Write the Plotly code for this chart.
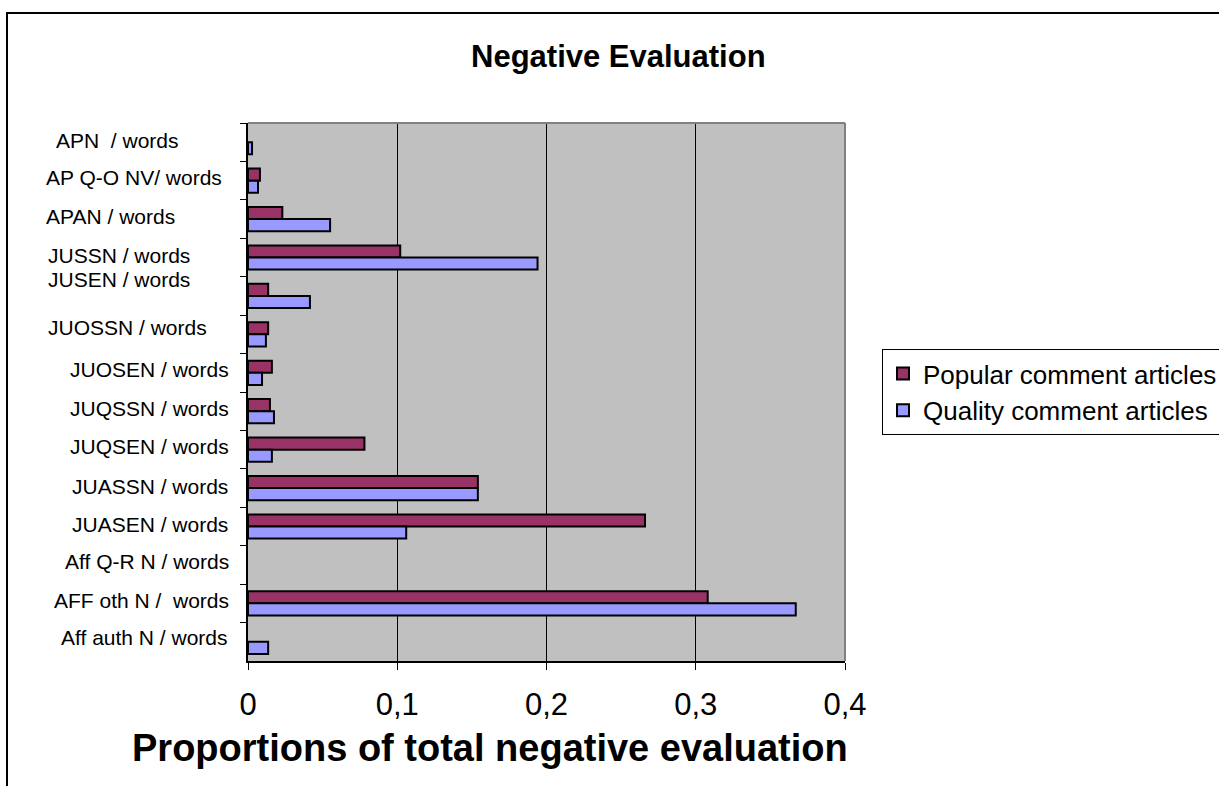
import plotly.graph_objects as go

# Categories, listed top to bottom as they appear on the chart
categories = [
    "APN  / words",
    "AP Q-O NV/ words",
    "APAN / words",
    "JUSSN / words",
    "JUSEN / words",
    "JUOSSN / words",
    "JUOSEN / words",
    "JUQSSN / words",
    "JUQSEN / words",
    "JUASSN / words",
    "JUASEN / words",
    "Aff Q-R N / words",
    "AFF oth N /  words",
    "Aff auth N / words",
]

popular = [0.0, 0.008, 0.023, 0.102, 0.0135, 0.0135, 0.016, 0.0147, 0.078,
           0.154, 0.266, 0.0, 0.308, 0.0]
quality = [0.0027, 0.0067, 0.055, 0.194, 0.0415, 0.012, 0.0094, 0.0174, 0.016,
           0.154, 0.106, 0.0, 0.367, 0.0135]

x_ticks = [0, 0.1, 0.2, 0.3, 0.4]

# Figure geometry (pixels)
W, H = 1219, 786
PL, PR, PT, PB = 248, 845, 123, 661


def px_x(px):
    return (px - PL) / (PR - PL)


def px_y(py):
    return (PB - py) / (PB - PT)


def nonzero(values):
    # empty categories get no bar at all (not even an outline)
    return [v if v > 0 else None for v in values]


FONT = "Liberation Sans, Arial, sans-serif"

fig = go.Figure()
fig.add_trace(go.Bar(
    y=categories, x=nonzero(popular), orientation="h",
    name="Popular comment articles",
    marker=dict(color="#993366", line=dict(color="black", width=2)),
))
fig.add_trace(go.Bar(
    y=categories, x=nonzero(quality), orientation="h",
    name="Quality comment articles",
    marker=dict(color="#9999FF", line=dict(color="black", width=2)),
))

# Category labels, placed individually (left edge px, vertical nudge px)
label_left = [54, 44, 44, 46, 46, 46, 68, 68, 68, 70, 70, 63, 52, 59]
label_shift = [2, 3, 3, 2, 16, 7, 3, 3, 3, 2, 2, 3, 3, 4]
annotations = []
for cat, lx, sh in zip(categories, label_left, label_shift):
    annotations.append(dict(
        x=px_x(lx), xref="paper", xanchor="left",
        y=cat, yref="y", yanchor="middle", yshift=sh,
        text=cat.replace("  ", "&nbsp; "), showarrow=False,
        font=dict(family=FONT, size=21, color="black"),
    ))

# Chart title and x-axis title
annotations.append(dict(
    x=px_x(618), xref="paper", xanchor="center",
    y=px_y(56), yref="paper", yanchor="middle",
    text="<b>Negative Evaluation</b>", showarrow=False,
    font=dict(family=FONT, size=31, color="black"),
))
annotations.append(dict(
    x=px_x(490), xref="paper", xanchor="center",
    y=px_y(748), yref="paper", yanchor="middle",
    text="<b>Proportions of total negative evaluation</b>", showarrow=False,
    font=dict(family=FONT, size=38, color="black"),
))

shapes = [
    # outer chart frame (runs past the right and bottom edges)
    dict(type="rect", xref="paper", yref="paper",
         x0=px_x(7), x1=px_x(1240), y0=px_y(810), y1=px_y(13),
         line=dict(color="black", width=2), layer="below"),
    # grey top and right edges of the plot area
    dict(type="line", xref="paper", yref="paper", x0=0, x1=1, y0=1, y1=1,
         line=dict(color="#808080", width=2)),
    dict(type="line", xref="paper", yref="paper", x0=1, x1=1, y0=0, y1=1,
         line=dict(color="#808080", width=2)),
]

fig.update_layout(
    width=W, height=H,
    margin=dict(l=PL, r=W - PR, t=PT, b=H - PB, autoexpand=False),
    paper_bgcolor="white",
    plot_bgcolor="#C0C0C0",
    barmode="group",
    bargap=0.37,
    bargroupgap=0,
    separators=",.",
    font=dict(family=FONT, color="black"),
    showlegend=True,
    legend=dict(
        x=px_x(882), xanchor="left", y=px_y(349), yanchor="top",
        bgcolor="white", bordercolor="black", borderwidth=1,
        font=dict(family=FONT, size=26, color="black"),
        tracegroupgap=0, itemclick=False,
    ),
    annotations=annotations,
    shapes=shapes,
)

fig.update_xaxes(
    range=[0, 0.4], tickvals=x_ticks,
    showgrid=True, gridcolor="black", gridwidth=1,
    showline=True, linecolor="black", linewidth=1.5,
    ticks="outside", ticklen=7, tickcolor="black", tickwidth=1,
    tickfont=dict(family=FONT, size=31, color="black"),
    ticklabelstandoff=8,
    zeroline=False, fixedrange=True,
)
fig.update_yaxes(
    categoryorder="array", categoryarray=categories,
    autorange="reversed",
    showticklabels=False, showgrid=False,
    showline=True, linecolor="black", linewidth=1.5,
    ticks="outside", ticklen=6, tickcolor="black", tickwidth=1,
    tickson="boundaries",
    zeroline=False, fixedrange=True,
)

fig.write_html("out.html")
